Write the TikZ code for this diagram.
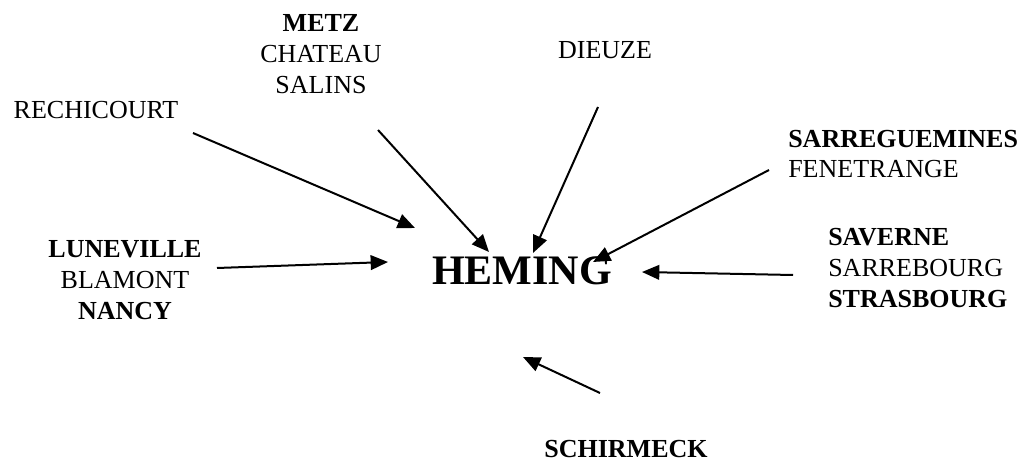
\documentclass[tikz,border=0pt]{standalone}
\usepackage{fontspec}
\setmainfont{Liberation Serif}
\usetikzlibrary{arrows.meta,positioning,calc}
\tikzset{town/.style={inner sep=0pt, font=\fontsize{19.5pt}{23pt}\selectfont},
	route/.style={line width=1.5pt, -{Triangle[length=13pt, width=11pt]}}}

\begin{document}
\begin{tikzpicture}[x=0.75pt, y=-0.75pt]
		\useasboundingbox (0,0) rectangle (1031,463);
		\node[town, font=\fontsize{31.5pt}{36pt}\selectfont\bfseries, anchor=base] (H)at(522,284){HEMING};
		\node[town, anchor=base] (R)at(96,119){RECHICOURT};
		\node[town, align=center] (M)at(321,54){\textbf{METZ}\\CHATEAU\\SALINS};
		\node[town, anchor=base] (D)at(605,59){DIEUZE};
		\node[town, align=left, anchor=west] (S)at(788,154){\textbf{SARREGUEMINES}\\FENETRANGE};
		\node[town, align=center] (L)at(125,280){\textbf{LUNEVILLE}\\BLAMONT\\\textbf{NANCY}};
		\node[town, align=left, anchor=west] (V)at(828,268){\textbf{SAVERNE}\\SARREBOURG\\\textbf{STRASBOURG}};
		\node[town, font=\fontsize{19.5pt}{23pt}\selectfont\bfseries, anchor=base] (K)at(626,457){SCHIRMECK};
		
		% ends of the arrows
		\coordinate (R1)at(193,133); \coordinate (R2)at(415,228);
		\coordinate (M1)at(378,130); \coordinate (M2)at(489,252);
		\coordinate (D1)at(598,107); \coordinate (D2)at(533,253);
		\coordinate (S1)at(769,170); \coordinate (S2)at(593,262);
		\coordinate (L1)at(217,268); \coordinate (L2)at(388,262);
		\coordinate (V1)at(793,275); \coordinate (V2)at(642,272);
		\coordinate (K1)at(600,393); \coordinate (K2)at(523,357);
		
		\draw[route](R1)--(R2);
	\draw[route](M1)--(M2);
	\draw[route](D1)--(D2);
	\draw[route](S1)--(S2);
	\draw[route](L1)--(L2);
	\draw[route](V1)--(V2);
	\draw[route](K1)--(K2);
	\end{tikzpicture}
\end{document}
